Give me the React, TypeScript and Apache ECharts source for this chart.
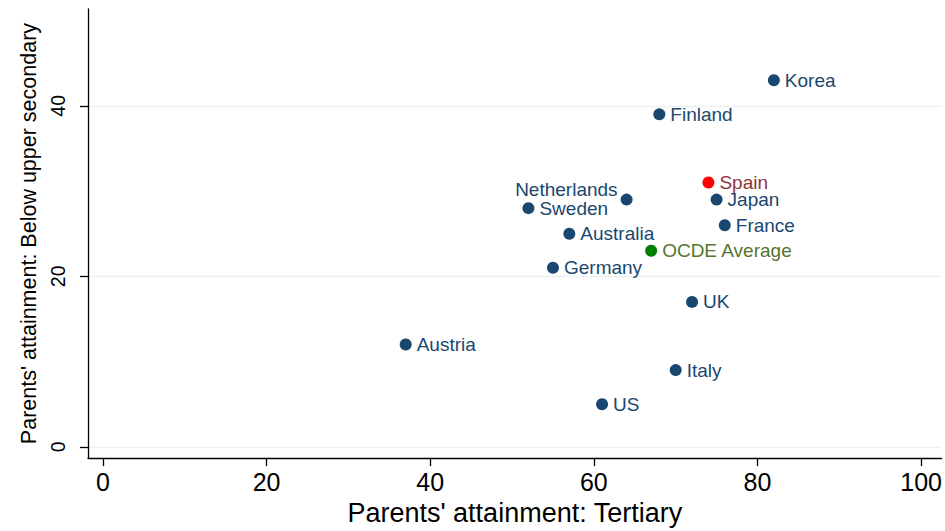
import React, { useEffect, useRef } from "react";
import * as echarts from "echarts";

const countries = ["Korea", "Finland", "Spain", "Netherlands", "Japan", "Sweden", "France", "Australia", "OCDE Average", "Germany", "UK", "Austria", "Italy", "US"];
const tertiary = [82, 68, 74, 64, 75, 52, 76, 57, 67, 55, 72, 37, 70, 61];
const belowUpperSecondary = [43, 39, 31, 29, 29, 28, 26, 25, 23, 21, 17, 12, 9, 5];
const xTicks = [0, 20, 40, 60, 80, 100];
const yTicks = [0, 20, 40];

const NAVY = "#1a476f";
const FONT = "'Liberation Sans', Arial, Helvetica, sans-serif";

export default function App() {
  const ref = useRef<HTMLDivElement>(null);
  useEffect(() => {
    document.body.style.margin = "0";
    if (!ref.current) return;
    const chart = echarts.init(ref.current, undefined, { renderer: "svg" });
    const data = countries.map((name, i) => {
      let dot = NAVY;
      let txt = NAVY;
      if (name === "Spain") { dot = "#ff0000"; txt = "#90353b"; }
      if (name === "OCDE Average") { dot = "#008000"; txt = "#55752f"; }
      const item: any = {
        name,
        value: [tertiary[i], belowUpperSecondary[i]],
        itemStyle: { color: dot, opacity: 1 },
        label: { color: txt },
      };
      if (name === "Netherlands") {
        item.label = { color: txt, position: "left", offset: [0, -10], distance: 3 };
      }
      return item;
    });
    chart.setOption({
      animation: false,
      backgroundColor: "#ffffff",
      textStyle: { fontFamily: FONT },
      grid: { left: 88, right: 0, top: 9, bottom: 67 },
      xAxis: {
        type: "value",
        min: -1.83,
        max: 102.5,
        name: "Parents' attainment: Tertiary",
        nameLocation: "middle",
        nameGap: 37,
        nameTextStyle: { color: "#000", fontSize: 27, fontFamily: FONT },
        axisLine: { show: true, onZero: false, lineStyle: { color: "#000", width: 1.3 } },
        axisTick: { show: true, length: 8, customValues: xTicks, lineStyle: { color: "#000", width: 1.3 } },
        axisLabel: { customValues: xTicks, color: "#000", fontSize: 25, margin: 11, fontFamily: FONT },
        splitLine: { show: false },
      },
      yAxis: {
        type: "value",
        min: -1.32,
        max: 51.36,
        name: "Parents' attainment: Below upper secondary",
        nameLocation: "middle",
        nameGap: 48,
        nameRotate: 90,
        nameTextStyle: { color: "#000", fontSize: 21.5, fontFamily: FONT },
        axisLine: { show: true, onZero: false, lineStyle: { color: "#000", width: 1.3 } },
        axisTick: { show: true, length: 8, customValues: yTicks, lineStyle: { color: "#000", width: 1.3 } },
        axisLabel: { customValues: yTicks, color: "#000", fontSize: 19.5, margin: 20, rotate: 90, fontFamily: FONT },
        splitLine: { show: false },
      },
      series: [
        {
          type: "scatter",
          symbol: "circle",
          symbolSize: 12,
          itemStyle: { opacity: 1 },
          data,
          label: {
            show: true,
            position: "right",
            distance: 5,
            formatter: "{b}",
            fontSize: 19,
            lineHeight: 15,
            fontFamily: FONT,
          },
          markLine: {
            silent: true,
            symbol: "none",
            label: { show: false },
            lineStyle: { color: "#eaf2f3", width: 1.3, type: "solid" },
            data: yTicks.map((v) => ({ yAxis: v })),
            z: 0,
          },
        },
      ],
    });
    return () => chart.dispose();
  }, []);
  return <div ref={ref} style={{ width: 945, height: 531 }} />;
}
